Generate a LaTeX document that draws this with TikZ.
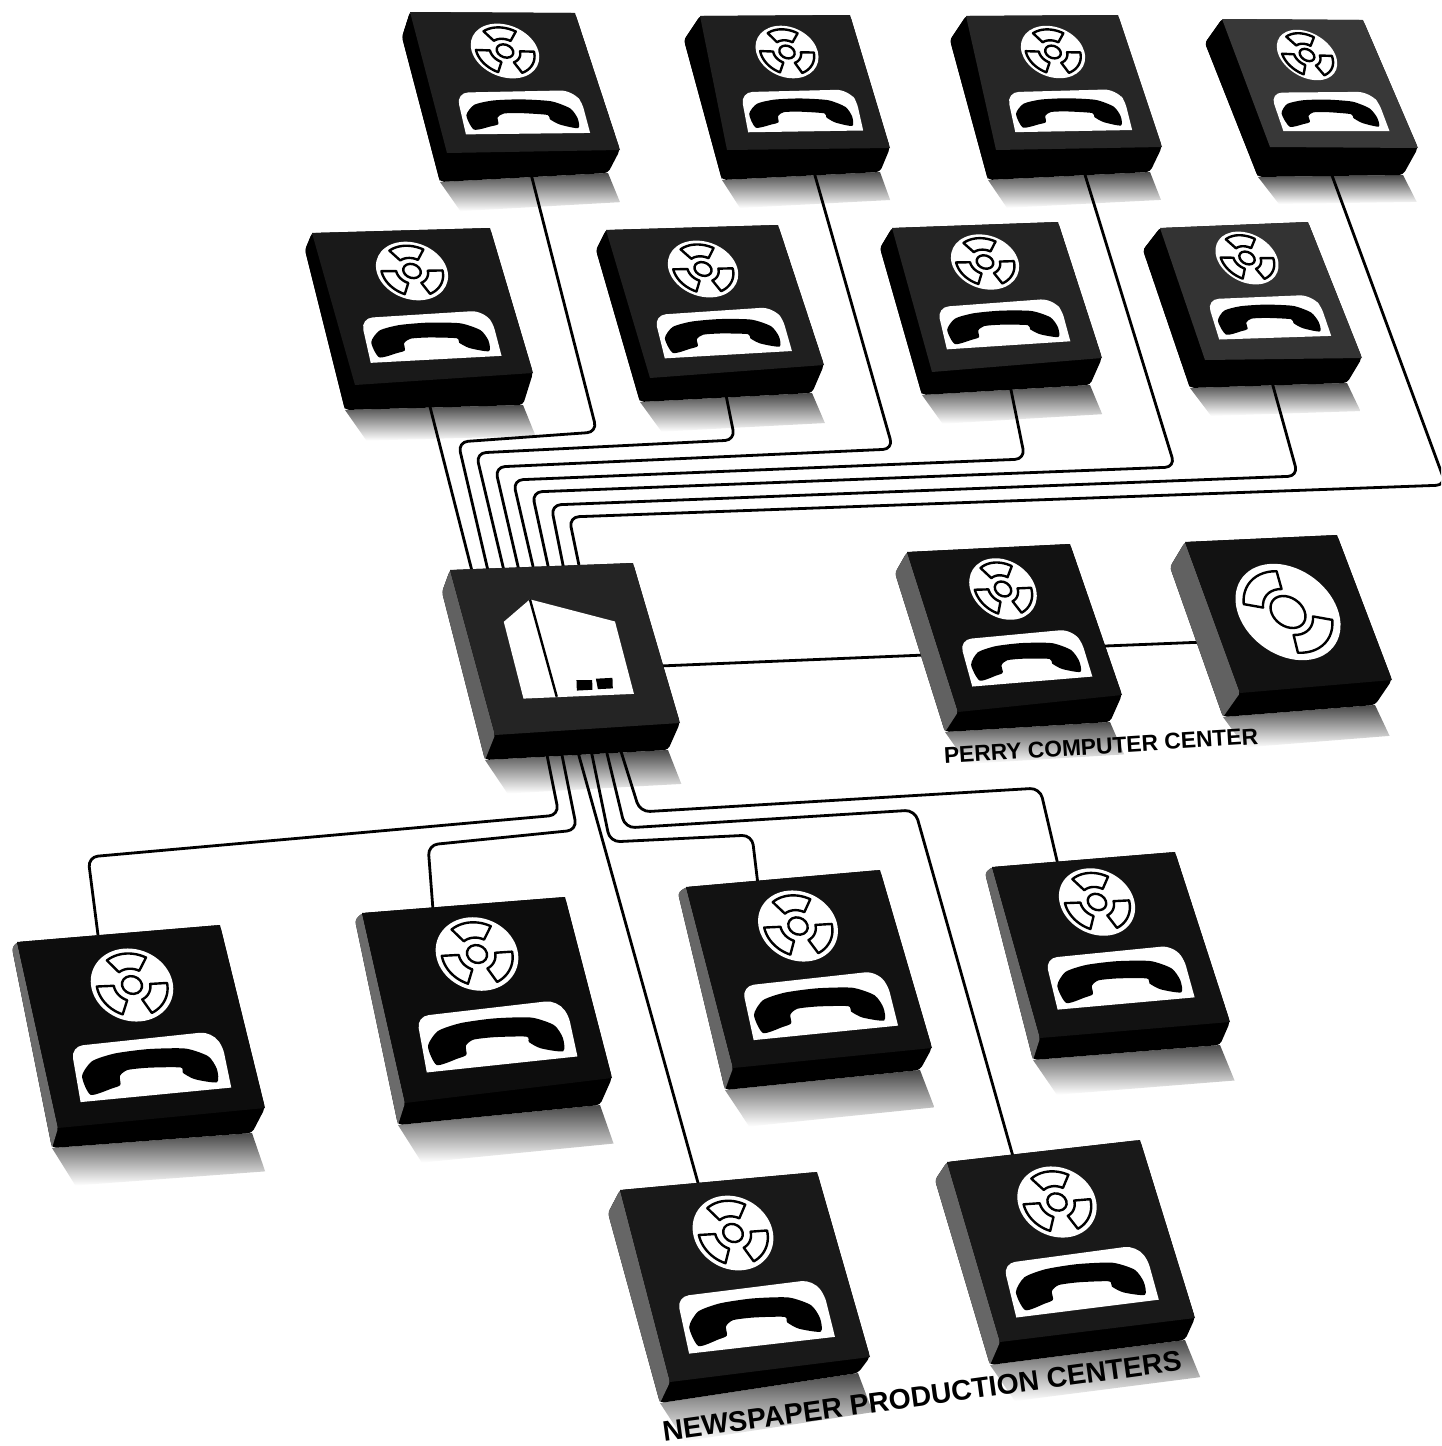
\documentclass[tikz,border=0pt]{standalone}
\usepackage{fontspec}
\setmainfont{Liberation Sans}
\tikzset{
  wire/.style={draw=black,line width=1.4pt,rounded corners=5pt,line join=round},
  iconwhite/.style={fill=white,draw=none},
  reelline/.style={fill=white,draw=black,line width=1.2pt,line join=round},
  caption/.style={text=black,inner sep=0pt}
}
% name, icon, side colour, face colour, icon anchor x, y ; then TL TR R BL ; then F E D
\newcommand\mydev[6]{\def\curname{#1}\def\curicon{#2}\def\sidecol{#3}\def\topcol{#4}\def\icx{#5}\def\icy{#6}\mydevB}
\newcommand\mydevB[8]{%
  \def\ax{#1}\def\ay{#2}\def\bx{#3}\def\by{#4}\def\rx{#5}\def\ry{#6}\def\lx{#7}\def\ly{#8}%
  \pgfmathsetmacro\ux{((#3-#1)+(#5-#7))/2}%
  \pgfmathsetmacro\uy{((#4-#2)+(#6-#8))/2}%
  \pgfmathsetmacro\vx{((#7-#1)+(#5-#3))/2}%
  \pgfmathsetmacro\vy{((#8-#2)+(#6-#4))/2}%
  \mydevC}
\newcommand\mydevC[6]{%
  \def\fx{#1}\def\fy{#2}\def\ex{#3}\def\ey{#4}\def\dx{#5}\def\dy{#6}%
  \pgfmathsetmacro\xa{\ux*0.5}\pgfmathsetmacro\xb{-\uy*0.5}%
  \pgfmathsetmacro\ya{\vx*0.5}\pgfmathsetmacro\yb{-\vy*0.5}%
  \passcode}
\newcommand\sector[4]{%
  \draw[reelline]
    plot[domain={#1-#2}:{#1+#2},samples=14] ({#4*cos(\x)},{#4*sin(\x)}) --
    plot[domain={#1+#2}:{#1-#2},samples=10] ({#3*cos(\x)},{#3*sin(\x)}) -- cycle;}
% phone icon: local origin sits on the reel centre
\newcommand\iconphone{%
  \fill[iconwhite] (0,0) circle[radius=.197];
  \sector{-89}{34}{.088}{.170}
  \sector{35}{33}{.088}{.170}
  \sector{150}{33}{.088}{.170}
  \draw[reelline] (0,0) circle[radius=.048];
  \begin{scope}[shift={(0,.235)}]
    \path[iconwhite] (-.376,.362) [rounded corners=6pt] -- (-.36,.062) -- (.33,.05) [rounded corners=3pt] -- (.365,.14) [sharp corners] -- (.36,.357) -- cycle;
    \fill[black] plot[smooth cycle,tension=.4] coordinates {(-.320,.328) (-.340,.225) (-.275,.150) (-.157,.120) (.008,.113) (.185,.128) (.285,.180) (.312,.252) (.298,.322) (.195,.295) (.146,.256) (.140,.226) (-.010,.212) (-.116,.214) (-.159,.242) (-.167,.290) (-.213,.305)};
  \end{scope}}
\newcommand\iconbigreel{%
  \fill[iconwhite] (0,0) circle[radius=.325];
  \sector{235}{40}{.155}{.275}
  \sector{56}{41}{.155}{.275}
  \draw[reelline] (0,0) circle[radius=.108];}
\newcommand\iconhouse{%
  \fill[iconwhite] (-.286,-.178) -- (-.112,-.306) -- (.310,-.145) -- (.302,.300) -- (-.297,.294) -- cycle;
  \draw[black,line width=1.2pt] (-.112,-.306) -- (-.116,.293);
  \fill[black] (.015,.198) -- (.099,.203) -- (.086,.262) -- (.001,.262) -- cycle;
  \fill[black] (.121,.196) -- (.211,.196) -- (.197,.260) -- (.116,.260) -- cycle;}
\newcommand\alldevices{%
  \mydev{tA}{iconphone}{black}{black!88}{505}{51}{410}{12}{575}{13}{620}{150}{447}{153}{402}{37}{440}{182}{608}{173}%
  \mydev{tB}{iconphone}{black}{black!88}{787}{52}{700}{16}{850}{15}{890}{148}{727}{150}{684}{40}{722}{180}{880}{172}%
  \mydev{tC}{iconphone}{black}{black!85}{1053}{52}{966}{16}{1118}{15}{1162}{147}{996}{150}{950}{40}{988}{180}{1150}{172}%
  \mydev{tD}{iconphone}{black}{black!78}{1307}{55}{1222}{19}{1363}{20}{1418}{148}{1270}{147}{1205}{43}{1258}{177}{1403}{175}%
  \mydev{tE}{iconphone}{black}{black!90}{412}{271}{312}{233}{490}{228}{533}{373}{355}{385}{305}{250}{345}{410}{523}{405}%
  \mydev{tF}{iconphone}{black}{black!88}{703}{269}{606}{230}{778}{225}{824}{365}{650}{378}{596}{250}{640}{402}{812}{393}%
  \mydev{tG}{iconphone}{black}{black!86}{985}{262}{892}{228}{1058}{222}{1102}{358}{932}{372}{880}{248}{922}{395}{1090}{385}%
  \mydev{tH}{iconphone}{black}{black!80}{1247}{258}{1160}{228}{1308}{222}{1362}{358}{1205}{360}{1143}{250}{1190}{388}{1347}{383}%
  \mydev{hub}{iconhouse}{black!62}{black!86}{564.6}{648}{450}{570}{633}{563}{680}{723}{495}{735}{442}{592}{485}{760}{668}{750}%
  \mydev{perry}{iconphone}{black!62}{black!93}{1003}{589}{907}{552}{1070}{544}{1122}{695}{958}{712}{895}{573}{945}{732}{1110}{722}%
  \mydev{comp}{iconbigreel}{black!62}{black!93}{1288}{612}{1185}{542}{1337}{535}{1392}{680}{1240}{693}{1170}{567}{1223}{717}{1375}{705}%
  \mydev{bA}{iconphone}{black!58}{black!95}{132}{985}{17}{942}{220}{925}{265}{1108}{58}{1128}{12}{948}{52}{1148}{252}{1133}%
  \mydev{bB}{iconphone}{black!58}{black!95}{477}{954}{362}{913}{565}{897}{612}{1078}{405}{1103}{355}{920}{398}{1125}{600}{1105}%
  \mydev{bC}{iconphone}{black!60}{black!93}{798}{926}{686}{887}{880}{870}{932}{1048}{733}{1068}{678}{893}{725}{1090}{920}{1070}%
  \mydev{bD}{iconphone}{black!60}{black!93}{1097}{902}{992}{867}{1175}{852}{1230}{1022}{1040}{1038}{985}{873}{1033}{1060}{1220}{1045}%
  \mydev{bE}{iconphone}{black!60}{black!90}{733}{1233}{620}{1190}{817}{1172}{870}{1357}{670}{1382}{608}{1213}{660}{1403}{858}{1373}%
  \mydev{bF}{iconphone}{black!60}{black!90}{1057}{1202}{947}{1162}{1140}{1140}{1195}{1318}{1000}{1342}{935}{1180}{990}{1365}{1185}{1340}%
}
\begin{document}
\begin{tikzpicture}[x=0.5pt,y=-0.5pt]
  \clip (0,0) rectangle (1441,1446);
  \fill[white] (0,0) rectangle (1441,1446);
  % pass 1: soft shadows, device anchors
  \def\passcode{%
    \coordinate (\curname) at (\icx,\icy);
    \shade[top color=black!72,bottom color=white,draw=none]
      (\ex,\ey) -- (\dx,\dy) -- ({\dx+.02*\ux+.21*\vx},{\dy+.02*\uy+.21*\vy})
      -- ({\ex+.07*\ux+.21*\vx},{\ey+.07*\uy+.21*\vy}) -- cycle;}
  \alldevices
  % connector ports
  \coordinate (tAp) at (530,170);
  \coordinate (tBp) at (812,165);
  \coordinate (tCp) at (1082,165);
  \coordinate (tDp) at (1330,170);
  \coordinate (tEp) at (427,395);
  \coordinate (tFp) at (725,390);
  \coordinate (tGp) at (1010,385);
  \coordinate (tHp) at (1270,375);
  \coordinate (hubA) at (473,575);
  \coordinate (hubB) at (489,575);
  \coordinate (hubC) at (505,575);
  \coordinate (hubD) at (520,575);
  \coordinate (hubE) at (535,575);
  \coordinate (hubF) at (550,575);
  \coordinate (hubG) at (565,575);
  \coordinate (hubH) at (581,575);
  \coordinate (hubI) at (545,745);
  \coordinate (hubJ) at (560,745);
  \coordinate (hubK) at (576,745);
  \coordinate (hubL) at (590,745);
  \coordinate (hubM) at (605,745);
  \coordinate (hubN) at (619,745);
  \coordinate (hubR) at (660,666);
  \coordinate (perryL) at (925,655);
  \coordinate (perryR) at (1105,646);
  \coordinate (compL) at (1205,642);
  \coordinate (bAp) at (98,935);
  \coordinate (bBp) at (433,910);
  \coordinate (bCp) at (758,885);
  \coordinate (bDp) at (1058,865);
  \coordinate (bEp) at (700,1190);
  \coordinate (bFp) at (1014,1160);
  % connectors
  \draw[wire] (tEp) -- (hubA);
  \draw[wire] (hubB) -- (458,442) -- (597,432) -- (tAp);
  \draw[wire] (hubC) -- (476,453) -- (735,440) -- (tFp);
  \draw[wire] (hubD) -- (495,467) -- (893,449) -- (tBp);
  \draw[wire] (hubE) -- (513,480) -- (1025,459) -- (tGp);
  \draw[wire] (hubF) -- (532,492) -- (1175,467) -- (tCp);
  \draw[wire] (hubG) -- (551,505) -- (1298,476) -- (tHp);
  \draw[wire] (hubH) -- (569,517) -- (1446,485) -- (tDp);
  \draw[wire] (hubR) -- (perryL);
  \draw[wire] (perryR) -- (compL);
  \draw[wire] (hubI) -- (559,815) -- (88,857) -- (bAp);
  \draw[wire] (hubJ) -- (577,830) -- (428,845) -- (bBp);
  \draw[wire] (hubK) -- (bEp);
  \draw[wire] (hubL) -- (610,842) -- (752,835) -- (bCp);
  \draw[wire] (hubM) -- (625,828) -- (915,810) -- (bFp);
  \draw[wire] (hubN) -- (640,812) -- (1040,788) -- (bDp);
  % pass 2: device bodies and icons
  \def\passcode{%
    \fill[black,rounded corners=2pt] (\fx,\fy) -- (\ax,\ay) -- (\bx,\by) -- (\rx,\ry) -- (\dx,\dy) -- (\ex,\ey) -- cycle;
    \fill[\sidecol,rounded corners=1pt] (\fx,\fy) -- (\ax,\ay) -- (\lx,\ly) -- (\ex,\ey) -- cycle;
    \fill[\topcol] (\ax,\ay) -- (\bx,\by) -- (\rx,\ry) -- (\lx,\ly) -- cycle;
    \begin{scope}[shift={(\curname)},x={(\xa pt,\xb pt)},y={(\ya pt,\yb pt)}]
      \csname\curicon\endcsname
    \end{scope}}
  \alldevices
  \node[caption,font=\bfseries\fontsize{11.4}{13}\selectfont,rotate=3.6] (perrycap) at (1101,746) {PERRY COMPUTER CENTER};
  \node[caption,font=\bfseries\fontsize{14.2}{16}\selectfont,rotate=7.8] (newscap) at (922,1396) {NEWSPAPER PRODUCTION CENTERS};
\end{tikzpicture}
\end{document}
